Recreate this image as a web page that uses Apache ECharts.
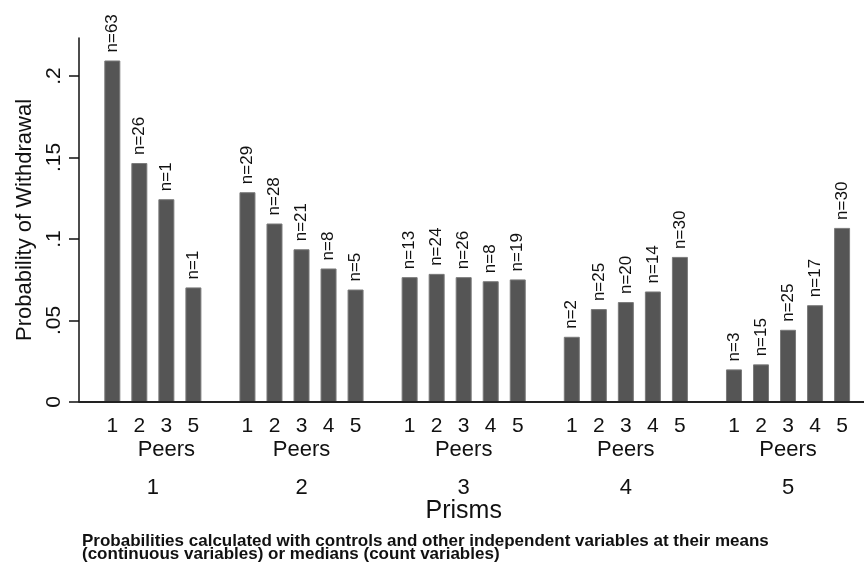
<!DOCTYPE html>
<html><head><meta charset="utf-8">
<script src="https://cdn.jsdelivr.net/npm/echarts@6/dist/echarts.min.js"></script>
<style>html,body{margin:0;padding:0;background:#fff}#c{width:864px;height:568px}</style>
</head><body><div id="c"></div>
<script>
// ---- data ----
const prisms = ['1', '2', '3', '4', '5'];
const peersByPrism = [
  ['1', '2', '3', '5'],
  ['1', '2', '3', '4', '5'],
  ['1', '2', '3', '4', '5'],
  ['1', '2', '3', '4', '5'],
  ['1', '2', '3', '4', '5']
];
const probPrism1 = [0.2095, 0.1466, 0.1244, 0.0703];
const probPrism2 = [0.1287, 0.1095, 0.0937, 0.0819, 0.0690];
const probPrism3 = [0.0766, 0.0786, 0.0766, 0.0741, 0.0752];
const probPrism4 = [0.0400, 0.0570, 0.0613, 0.0678, 0.0890];
const probPrism5 = [0.0200, 0.0231, 0.0443, 0.0594, 0.1068];
const countPrism1 = [63, 26, 1, 1];
const countPrism2 = [29, 28, 21, 8, 5];
const countPrism3 = [13, 24, 26, 8, 19];
const countPrism4 = [2, 25, 20, 14, 30];
const countPrism5 = [3, 15, 25, 17, 30];
const yTickValues = [0, 0.05, 0.1, 0.15, 0.2];
const yTickLabels = ['0', '.05', '.1', '.15', '.2'];
const yTitle = 'Probability of Withdrawal';
const groupTitle = 'Peers';
const xTitle = 'Prisms';
const note1 = 'Probabilities calculated with controls and other independent variables at their means';
const note2 = '(continuous variables) or medians (count variables)';

// ---- build ----
const probs = [probPrism1, probPrism2, probPrism3, probPrism4, probPrism5];
const counts = [countPrism1, countPrism2, countPrism3, countPrism4, countPrism5];
const categories = [];
const barData = [];
const groupIdx = []; // indices of categories per group
prisms.forEach((p, g) => {
  if (g > 0) { categories.push(''); barData.push('-'); }
  const idx = [];
  peersByPrism[g].forEach((pe, k) => {
    idx.push(categories.length);
    categories.push(pe);
    barData.push({ value: probs[g][k], n: counts[g][k] });
  });
  groupIdx.push(idx);
});

const FONT = '"Liberation Sans", Arial, Helvetica, sans-serif';
const AXIS_X = 79;
const GRID_LEFT = 98.8;

const chart = echarts.init(document.getElementById('c'), null, { renderer: 'canvas' });
chart.setOption({
  animation: false,
  backgroundColor: '#ffffff',
  grid: { left: GRID_LEFT, right: 8.4, top: 38, bottom: 166, containLabel: false },
  xAxis: {
    type: 'category',
    data: categories,
    boundaryGap: true,
    axisLine: { show: false },
    axisTick: { show: false },
    axisLabel: { color: '#111', fontFamily: FONT, fontSize: 21, margin: 14, interval: 0 },
    splitLine: { show: false }
  },
  yAxis: {
    type: 'value',
    min: 0,
    max: 0.2233,
    offset: GRID_LEFT - AXIS_X,
    name: yTitle,
    nameLocation: 'middle',
    nameGap: 43,
    nameTextStyle: { color: '#111', fontFamily: FONT, fontSize: 22 },
    axisLine: { show: true, lineStyle: { color: '#111', width: 1.5 } },
    axisTick: { show: true, length: 10, customValues: yTickValues, lineStyle: { color: '#111', width: 1.5 } },
    axisLabel: {
      rotate: 90, margin: 14, color: '#111', fontFamily: FONT, fontSize: 21,
      customValues: yTickValues,
      formatter: v => { const i = yTickValues.findIndex(t => Math.abs(t - v) < 1e-9); return i >= 0 ? yTickLabels[i] : ''; }
    },
    splitLine: { show: false }
  },
  series: [{
    type: 'bar',
    data: barData,
    barWidth: 16,
    itemStyle: { color: '#555555', borderColor: '#7a7a7a', borderWidth: 1 },
    label: {
      show: true,
      position: 'top',
      distance: 8,
      rotate: 90,
      align: 'left',
      verticalAlign: 'middle',
      fontFamily: FONT,
      fontSize: 17,
      color: '#111',
      formatter: p => 'n=' + p.data.n
    }
  }]
});

// text rows under the axis placed through the axis scale
const px = i => chart.convertToPixel({ xAxisIndex: 0 }, i);
const y0 = chart.convertToPixel({ yAxisIndex: 0 }, 0);
const g = [];
g.push({ type: 'line', shape: { x1: AXIS_X, y1: y0, x2: 864, y2: y0 }, style: { stroke: '#222', lineWidth: 2 }, z: 10 });
groupIdx.forEach((idx, gi) => {
  // "Peers" centred on the third slot of each group
  const peersX = px(idx[0] + 2);
  const prismX = (px(idx[0]) + px(idx[idx.length - 1])) / 2;
  g.push({ type: 'text', x: peersX, y: y0 + 47.5, style: { text: groupTitle, font: '22px ' + FONT, fill: '#111', align: 'center', verticalAlign: 'middle' } });
  g.push({ type: 'text', x: prismX, y: y0 + 85.5, style: { text: prisms[gi], font: '22px ' + FONT, fill: '#111', align: 'center', verticalAlign: 'middle' } });
});
g.push({ type: 'text', x: px(groupIdx[2][2]), y: y0 + 109, style: { text: xTitle, font: '25px ' + FONT, fill: '#111', align: 'center', verticalAlign: 'middle' } });
g.push({ type: 'text', x: 82, y: y0 + 139, style: { text: note1, font: 'bold 17px ' + FONT, fill: '#111', align: 'left', verticalAlign: 'middle' } });
g.push({ type: 'text', x: 82, y: y0 + 152, style: { text: note2, font: 'bold 17px ' + FONT, fill: '#111', align: 'left', verticalAlign: 'middle' } });
chart.setOption({ graphic: g });
</script>
</body></html>
